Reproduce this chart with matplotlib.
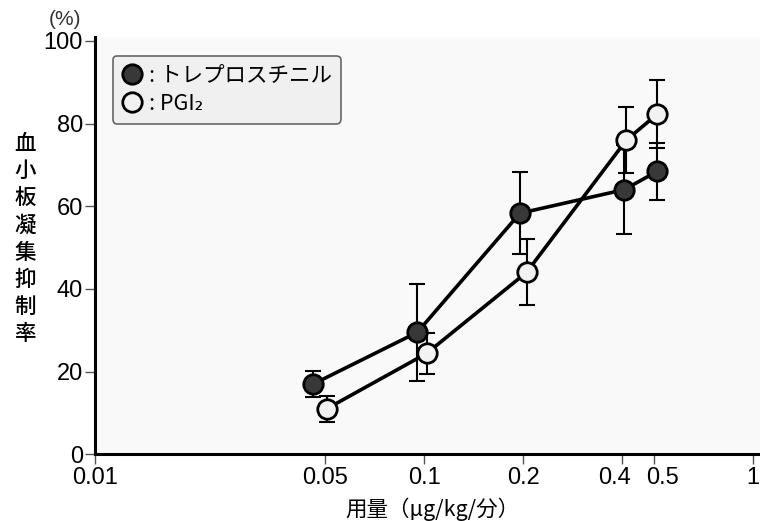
import matplotlib
matplotlib.use("Agg")
import matplotlib.pyplot as plt
import matplotlib.transforms as mtransforms
from matplotlib.lines import Line2D

plt.rcParams['font.family'] = ['Liberation Sans', 'Noto Sans CJK JP', 'DejaVu Sans']

# dose (ug/kg/min) vs inhibition (%)
dose_trep = [0.046, 0.0953, 0.1955, 0.4056, 0.5105]
inhib_trep = [17.0, 29.5, 58.3, 64.0, 68.4]
err_trep = [3.2, 11.8, 9.9, 10.8, 6.8]

dose_pgi = [0.0505, 0.1017, 0.2048, 0.412, 0.512]
inhib_pgi = [11.0, 24.4, 44.0, 76.0, 82.3]
err_pgi = [3.2, 5.0, 8.0, 8.0, 8.2]

xticks = [0.01, 0.05, 0.1, 0.2, 0.4, 0.5, 1]
xticklabels = ['0.01', '0.05', '0.1', '0.2', '0.4', '0.5', '1']
yticks = [0, 20, 40, 60, 80, 100]

dark = '#383838'
light = '#f2f2f2'

fig = plt.figure(figsize=(7.6, 5.21), dpi=100)
ax = fig.add_axes([0.1254, 0.128, 0.8746, 0.8016])
ax.set_facecolor('#f9f9f9')

for x, y, e, fc in [(dose_trep, inhib_trep, err_trep, dark),
                    (dose_pgi, inhib_pgi, err_pgi, light)]:
    ax.errorbar(x, y, yerr=e, fmt='none', ecolor='black', elinewidth=1.5,
                capsize=5.5, capthick=1.5, zorder=2)
    ax.plot(x, y, color='black', lw=2.6, marker='o', markersize=14,
            markerfacecolor=fc, markeredgecolor='black', markeredgewidth=2,
            zorder=3)

ax.set_xscale('log')
ax.set_xlim(0.01, 1.05)
ax.set_ylim(0, 101)
ax.set_xticks(xticks)
ax.set_xticklabels(xticklabels)
ax.xaxis.set_minor_locator(matplotlib.ticker.NullLocator())
ax.set_yticks(yticks)

for s in ['top', 'right']:
    ax.spines[s].set_visible(False)
for s in ['left', 'bottom']:
    ax.spines[s].set_linewidth(2.2)
ax.tick_params(axis='both', direction='out', length=7, width=1,
               color='#555555', labelsize=17, pad=2)

# pull the 0.4 / 0.5 labels apart so they don't touch
for lab in ax.get_xticklabels():
    shift = {'0.4': -8, '0.5': 8}.get(lab.get_text(), 0)
    if shift:
        off = mtransforms.ScaledTranslation(shift / 100, 0, fig.dpi_scale_trans)
        lab.set_transform(lab.get_transform() + off)

# vertical axis title
fig.text(0.033, 0.541, '\n'.join('血小板凝集抑制率'), ha='center', va='center',
         fontsize=15.5, linespacing=1.3, fontweight='medium',
         family=['Noto Sans CJK JP'])
fig.text(0.086, 0.962, '(%)', ha='center', va='center', fontsize=15,
         color='#333333')
fig.text(0.569, 0.022, '用量（μg/kg/分）', ha='center', va='center',
         fontsize=15.5, family=['Noto Sans CJK JP'])

handles = [
    Line2D([], [], ls='none', marker='o', markersize=14, markerfacecolor=dark,
           markeredgecolor='black', markeredgewidth=2),
    Line2D([], [], ls='none', marker='o', markersize=14, markerfacecolor=light,
           markeredgecolor='black', markeredgewidth=2),
]
leg = ax.legend(handles, [': トレプロスチニル', ': PGI₂'], loc='upper left',
                bbox_to_anchor=(0.026, 0.954), borderaxespad=0,
                handlelength=1.0, handletextpad=0.3, labelspacing=0.3,
                borderpad=0.4, fancybox=True, framealpha=1,
                facecolor='#f0f0f0', edgecolor='#666666',
                prop={'family': ['Noto Sans CJK JP', 'DejaVu Sans'], 'size': 15.5})
leg.get_frame().set_linewidth(1.2)

fig.savefig('out.png', dpi=100)
